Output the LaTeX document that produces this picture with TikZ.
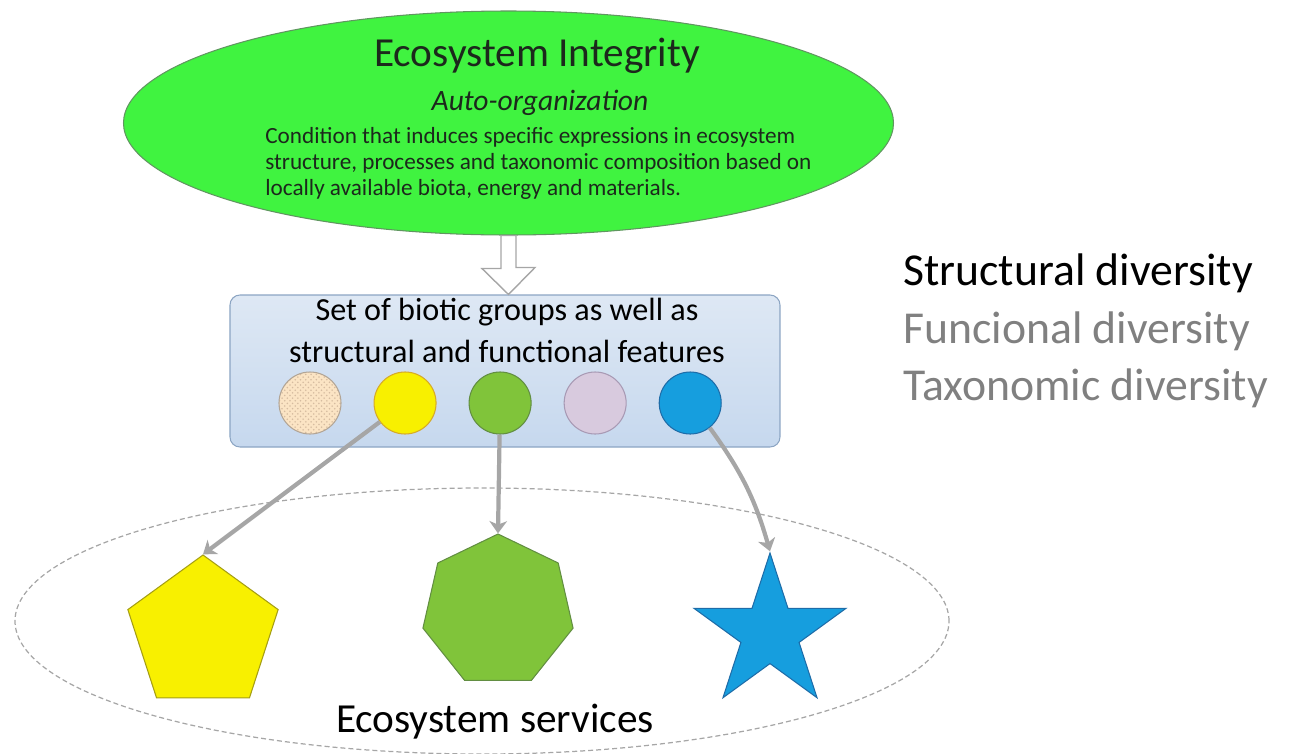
\documentclass[tikz,border=0pt]{standalone}
\usepackage{fontspec}
\setmainfont{Carlito}
\usetikzlibrary{shapes,arrows.meta,positioning,calc,patterns}
\usepackage{xcolor}
\definecolor{ecogreen}{RGB}{64,243,64}
\definecolor{ecoline}{RGB}{96,150,96}
\definecolor{ecotext}{RGB}{28,40,28}
\definecolor{boxtop}{RGB}{222,232,244}
\definecolor{boxbot}{RGB}{198,216,238}
\definecolor{boxline}{RGB}{140,165,195}
\definecolor{linkgray}{RGB}{166,166,166}
\definecolor{tanfill}{RGB}{251,228,196}
\definecolor{tandot}{RGB}{214,188,160}
\definecolor{tanline}{RGB}{178,165,150}
\definecolor{yelfill}{RGB}{248,240,0}
\definecolor{yelline}{RGB}{214,170,40}
\definecolor{pentline}{RGB}{165,158,20}
\definecolor{grnfill}{RGB}{128,196,58}
\definecolor{grnline}{RGB}{98,142,66}
\definecolor{lilfill}{RGB}{216,202,222}
\definecolor{lilline}{RGB}{168,154,180}
\definecolor{blufill}{RGB}{22,158,222}
\definecolor{bluline}{RGB}{30,108,168}
\definecolor{txtgray}{RGB}{128,128,128}
\newcommand{\titlefont}{\fontsize{23.5}{28}\selectfont}
\newcommand{\subfont}{\fontsize{16.8}{20}\selectfont\itshape}
\newcommand{\bodyfont}{\fontsize{13.2}{15}\selectfont}
\newcommand{\setfont}{\fontsize{18.3}{22}\selectfont}
\newcommand{\sidefont}{\fontsize{26}{32}\selectfont}
\tikzset{
	integ/.style={
		ellipse,
		draw=ecoline,
		fill=ecogreen,
		line width=0.6pt,
		inner sep=0pt,
		minimum width=154mm,
		minimum height=44.8mm,
	},
	setbox/.style={
		rectangle,
		rounded corners=2mm,
		draw=boxline,
		line width=0.6pt,
		top color=boxtop,
		bottom color=boxbot,
		minimum width=110mm,
		minimum height=30.4mm,
	},
	bio/.style={
		circle,
		line width=0.6pt,
		inner sep=0pt,
		minimum size=12.4mm,
	},
	service/.style={
		ellipse,
		draw=linkgray,
		dashed,
		dash pattern=on 1mm off 0.6mm,
		line width=0.7pt,
		inner sep=0pt,
		minimum width=186.8mm,
		minimum height=53.2mm,
	},
	good/.style={
		line width=0.6pt,
		inner sep=0pt,
	},
	hollow/.style={
		draw=linkgray,
		fill=white,
		line width=0.8pt,
		line join=miter,
	},
	link/.style={
		-{Stealth[length=7pt,width=10pt,inset=2pt]},
		draw=linkgray,
		line width=2.4pt,
	},
	txt/.style={
		inner sep=0pt,
		anchor=base,
	},
}

\begin{document}
\begin{tikzpicture}[x=0.2mm,y=-0.2mm]

\useasboundingbox (0,0) rectangle (1297,754);

\node[service] (svc) at (482,621) {};

\node[integ] (integ) at (508.5,123) {};
\node[txt,text=ecotext] (title) at (537,66) {\titlefont Ecosystem Integrity};
\node[txt,text=ecotext] (auto) at (540,110) {\subfont Auto-organization};
\node[txt,anchor=base west,text=ecotext] (l1) at (265,143)
  {\bodyfont Condition that induces specific expressions in ecosystem};
\node[txt,anchor=base west,text=ecotext] (l2) at (265,169)
  {\bodyfont structure, processes and taxonomic composition based on};
\node[txt,anchor=base west,text=ecotext] (l3) at (265,195)
  {\bodyfont locally available biota, energy and materials.};

\node[setbox] (set) at (505,371) {};
\node[txt] (s1) at (507,320) {\setfont Set of biotic groups as well as};
\node[txt] (s2) at (507,362) {\setfont structural and functional features};

\draw[hollow]
  ($(integ.south)+(-7.5,0)$)
  -- ++(0,33)
  -- ++(-19,0)
  -- (integ.south |- set.north)
  -- ++(26.5,-27)
  -- ++(-19,0)
  -- ($(integ.south)+(7.5,0)$)
  -- cycle;

\node[bio,draw=tanline,preaction={fill=tanfill},pattern=crosshatch dots,pattern color=tandot] (tan) at (310,403) {};
\node[bio,draw=yelline,fill=yelfill] (yel) [right=6.4mm of tan] {};
\node[bio,draw=grnline,fill=grnfill] (grn) [right=6.4mm of yel] {};
\node[bio,draw=lilline,fill=lilfill] (lil) [right=6.4mm of grn] {};
\node[bio,draw=bluline,fill=blufill] (blu) [right=6.4mm of lil] {};

\node[good,regular polygon,regular polygon sides=5,minimum size=31.6mm,draw=pentline,fill=yelfill] (pent) at (203,634) {};
\node[good,regular polygon,regular polygon sides=7,minimum size=30.8mm,draw=grnline,fill=grnfill] (hept) at (498,611) {};
\node[good,star,star points=5,star point ratio=2.618,minimum size=32mm,draw=bluline,fill=blufill] (star) at (770,633) {};

\node[txt] (es) at (495,732) {\titlefont Ecosystem services};

\draw[link]
  (yel)
  --
  (pent.corner 1);

\draw[link]
  (grn)
  --
  (hept.corner 1);

\draw[link]
  (blu)
  to[bend left=10]
  (star.outer point 1);

\node[txt,anchor=base west] (sd) at (903,285) {\sidefont Structural diversity};
\node[txt,anchor=base west,text=txtgray] (fd) at (903,343) {\sidefont Funcional diversity};
\node[txt,anchor=base west,text=txtgray] (td) at (903,400) {\sidefont Taxonomic diversity};

\end{tikzpicture}
\end{document}
